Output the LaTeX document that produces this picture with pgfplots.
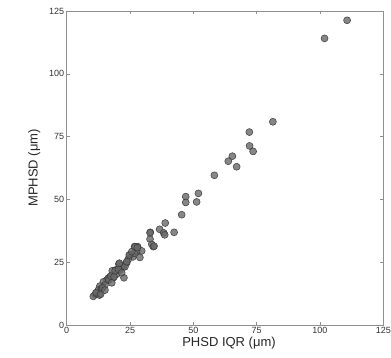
\documentclass[border=0pt]{standalone}
\usepackage{fontspec}
\setmainfont{Liberation Sans}
\usepackage{pgfplots}
\pgfplotsset{compat=1.18}
\definecolor{axgray}{HTML}{909090}
\definecolor{ptfill}{HTML}{686868}
\definecolor{ptedge}{HTML}{3A3A3A}
\begin{document}
\begin{tikzpicture}
\begin{axis}[
  scale only axis,
  width=316.6pt, height=314pt,
  xmin=0, xmax=125, ymin=0, ymax=125,
  xtick={0,25,50,75,100,125}, ytick={0,25,50,75,100,125},
  tick align=inside,
  major tick length=3pt,
  axis line style={axgray, line width=0.8pt},
  every tick/.style={axgray, line width=0.6pt},
  tick label style={font=\fontsize{9}{10}\selectfont, text=black!80},
  /pgf/number format/assume math mode=true,
  xlabel={PHSD IQR (μm)}, ylabel={MPHSD (μm)},
  label style={font=\fontsize{13}{15}\selectfont, text=black!85},
  xlabel style={yshift=4pt, xshift=4pt},
  ylabel style={yshift=2pt},
  xticklabel style={yshift=1pt},
  yticklabel style={xshift=1pt},
]
\addplot[only marks, mark=*, mark size=3.5pt,
  mark options={fill=ptfill, fill opacity=0.8, draw=ptedge, line width=0.5pt}]
coordinates {
(110.7,121.3) (101.8,114.1) (81.4,80.9) (72.1,76.8) (72.2,71.3) (73.6,69.1)
(65.4,67.2) (63.8,65.2) (67.1,63.0) (58.3,59.6)
(47.0,51.1) (47.0,48.8) (52.0,52.4) (51.3,49.0) (45.4,43.9)
(38.9,40.6) (36.7,38.1) (38.3,36.7) (38.7,35.9) (42.4,36.9)
(33.0,36.9) (32.9,34.2) (33.6,32.1) (34.2,31.2)
(26.8,31.2) (28.0,31.2) (29.6,29.5) (28.9,26.9) (27.6,29.5)
(25.0,27.9) (26.1,27.1) (23.7,24.8) (22.3,23.0) (22.6,18.8)
(20.6,24.3) (19.3,21.9) (19.7,20.2) (18.4,18.8) (17.1,19.2) (18.0,21.6)
(15.8,17.9) (14.5,17.2) (13.1,15.5) (12.5,13.9) (11.2,12.1) (10.5,11.4)
(11.8,12.6) (13.8,14.6) (15.1,15.9) (16.4,18.6) (21.0,21.9) (21.7,23.5)
(24.3,26.2) (26.7,28.5) (12.9,11.9)
(11.6,12.9) (13.4,12.3) (14.2,14.8) (15.1,13.9) (16.6,17.9) (17.8,16.8)
(17.4,19.5) (18.7,19.2) (19.1,21.6) (20.4,22.2) (20.8,24.6) (21.7,20.8)
(23.0,23.2) (23.7,25.2) (24.7,27.9) (25.7,29.2) (27.0,31.2) (27.9,30.8)
(32.9,36.7) (34.5,31.4)
};
\end{axis}
\pgfresetboundingbox
\path ([shift={(-66.7pt,-32pt)}]current axis.south west) rectangle ([shift={(7.7pt,11pt)}]current axis.north east);
\end{tikzpicture}
\end{document}
